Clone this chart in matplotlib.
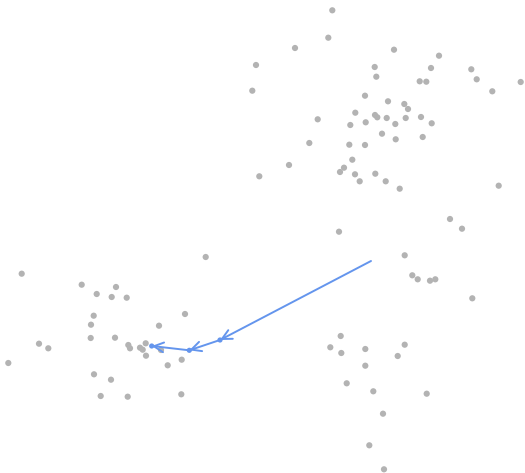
import matplotlib
matplotlib.use('Agg')
import matplotlib.pyplot as plt

# scatter of sample locations (screen-style coordinates, y grows downward)
pts_x = [205.7, 21.7, 81.7, 116.0, 96.7, 111.7, 126.7, 185.0, 93.7, 91.0,
         159.0, 90.7, 115.0, 39.0, 48.3, 128.3, 130.0, 145.7, 140.0, 142.7,
         161.0, 146.0, 181.7, 167.7, 8.3, 94.0, 111.0, 100.7, 127.7, 181.3,
         332.3, 328.3, 295.0, 394.0, 439.0, 256.0, 374.7, 431.0, 471.3, 376.3,
         476.7, 419.7, 426.3, 520.7, 252.3, 492.3, 365.0, 388.0, 404.3, 408.0,
         355.3, 375.0, 377.3, 386.7, 405.7, 421.0, 317.7, 365.7, 350.3, 395.3,
         431.7, 382.0, 422.7, 395.7, 309.3, 349.3, 365.0, 352.3, 289.0, 259.3,
         344.0, 340.0, 355.0, 375.3, 359.7, 385.7, 399.7, 498.7,
         450.0, 462.0, 339.0, 404.7, 412.3, 417.7, 430.0, 435.3, 472.3,
         340.7, 330.3, 341.3, 365.3, 404.7, 397.7, 365.3, 346.7, 373.3,
         426.7, 383.0, 369.3, 384.0]
pts_y = [257.0, 273.7, 284.7, 287.0, 294.0, 297.0, 297.7, 314.0, 315.7, 324.7,
         325.7, 338.0, 337.7, 343.7, 348.3, 345.0, 348.3, 343.3, 347.7, 349.7,
         350.0, 355.7, 359.7, 365.3, 363.0, 374.3, 379.7, 396.0, 396.7, 394.3,
         10.3, 37.7, 48.0, 49.7, 55.7, 65.0, 67.0, 68.0, 69.3, 76.7,
         79.3, 81.3, 81.7, 82.0, 90.7, 91.3, 95.7, 101.3, 104.0, 109.0,
         112.7, 115.0, 117.3, 118.0, 118.0, 117.0, 119.3, 122.3, 125.0, 124.0,
         123.3, 133.7, 137.0, 139.3, 143.0, 144.7, 145.0, 159.7, 165.0, 176.3,
         167.7, 172.0, 174.3, 173.7, 181.3, 181.3, 188.7, 185.7,
         219.0, 228.7, 231.7, 255.3, 275.3, 279.3, 280.7, 279.3, 298.3,
         336.0, 347.3, 353.0, 349.0, 344.7, 356.0, 365.7, 383.3, 391.3,
         393.7, 413.7, 445.3, 469.3]

# trajectory
path_x = [371.0, 220.0, 189.3, 151.7]
path_y = [261.0, 340.0, 350.3, 346.0]

fig = plt.figure(figsize=(5.25, 4.73), dpi=100)
ax = fig.add_axes([0, 0, 1, 1])
ax.set_xlim(0, 525)
ax.set_ylim(473, 0)
ax.axis('off')

ax.scatter(pts_x, pts_y, s=20, c='#b3b3b3', edgecolors='none', zorder=2)

blue = '#6495ED'
for i in range(len(path_x) - 1):
    ax.annotate('', xy=(path_x[i + 1], path_y[i + 1]), xytext=(path_x[i], path_y[i]),
                arrowprops=dict(arrowstyle='->,head_length=0.7,head_width=0.35',
                                color=blue, lw=1.4, shrinkA=0, shrinkB=0),
                zorder=3)
ax.scatter(path_x[1:], path_y[1:], s=14, c=blue, edgecolors='none', zorder=4)

fig.savefig('out.png', dpi=100, facecolor='white')
